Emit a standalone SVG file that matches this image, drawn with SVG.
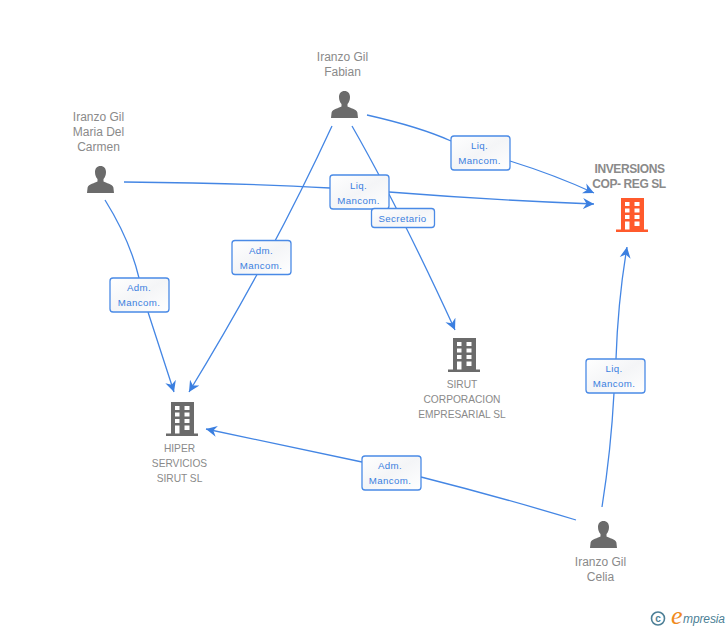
<svg xmlns="http://www.w3.org/2000/svg" width="728" height="630" viewBox="0 0 728 630">
<style>
text{font-family:"Liberation Sans",Arial,sans-serif}
.n{font-size:12px;fill:#8a8a8a;text-anchor:middle}
.c{font-size:10.200px;fill:#8a8a8a;text-anchor:middle}
.b{font-size:12px;font-weight:bold;fill:#8a8a8a;text-anchor:middle;letter-spacing:-.4px}
.l{font-size:9.700px;fill:#3b7fe0;text-anchor:middle;letter-spacing:.4px}
.e{fill:none;stroke:#4486e4;stroke-width:1.300}
.r{fill:url(#g);stroke:#4a8ae6;stroke-width:1.300}
</style>
<defs>
<linearGradient id="g" x1="0" y1="0" x2="1" y2="1"><stop offset="0" stop-color="#fff"/><stop offset=".5" stop-color="#f4f5f7"/><stop offset="1" stop-color="#fff"/></linearGradient>
<marker id="a" markerUnits="userSpaceOnUse" markerWidth="12" markerHeight="12" viewBox="0 0 12 12" refX="11" refY="6" orient="auto"><path d="M11 6L0 .5L3.500 6L0 11.500Z" fill="#3b7fe0"/></marker>
<symbol id="p" width="27" height="27" viewBox="0 0 27 27" overflow="visible"><path d="M13.500 0C10 0 8 2.600 8 6C8 9 9 11.500 10.500 13V15.500C8 17 1.500 18 .6 21.500L0 27H27L26.400 21.500C25.500 18 19 17 16.500 15.500V13C18 11.500 19 9 19 6C19 2.600 17 0 13.500 0Z"/></symbol>
<symbol id="h" width="32" height="34" viewBox="0 0 32 34"><path fill-rule="evenodd" d="M5 0H28V31.500H32V34H0V31.500H5ZM9 4V8H13.500V4ZM18.500 4V8H23.500V4ZM9 10.500V14.500H13.500V10.500ZM18.500 10.500V14.500H23.500V10.500ZM9 17V21H13.500V17ZM18.500 17V21H23.500V17ZM9 23.500V31.500H13.500V23.500ZM18.500 23.500V28H23.500V23.500Z"/></symbol>
</defs>
<g id="connectors">
<path class="e" marker-end="url(#a)" d="M367 115Q420 127 451 141M510 161Q555 175 594 193"/>
<path class="e" marker-end="url(#a)" d="M352 126Q400 210 455 330"/>
<path class="e" marker-end="url(#a)" d="M332 126Q272 256 189 392"/>
<path class="e" marker-end="url(#a)" d="M124 182Q240 183 330 188M389 192Q490 200 594 204"/>
<path class="e" marker-end="url(#a)" d="M105 200Q130 240 139 278M148 312L174 392"/>
<path class="e" marker-end="url(#a)" d="M576 520Q500 497 421 477M362 462L206 429"/>
<path class="e" marker-end="url(#a)" d="M602 507Q611 450 614 393M616 359Q618 300 627 247"/>
</g>
<g id="edge-labels">
<g><rect class="r" x="451" y="136" width="59" height="34" rx="3"/><text class="l" x="479.500" y="149">Liq.</text><text class="l" x="479.500" y="164">Mancom.</text></g>
<g><rect class="r" x="330" y="175" width="59" height="34" rx="3"/><text class="l" x="358.500" y="189">Liq.</text><text class="l" x="358.500" y="204">Mancom.</text></g>
<g><rect class="r" x="371.500" y="208.500" width="63" height="19" rx="3"/><text class="l" x="402.500" y="222">Secretario</text></g>
<g><rect class="r" x="232" y="240.500" width="59" height="34" rx="3"/><text class="l" x="261" y="254">Adm.</text><text class="l" x="261" y="269">Mancom.</text></g>
<g><rect class="r" x="110" y="278" width="59" height="34" rx="3"/><text class="l" x="139" y="291">Adm.</text><text class="l" x="139" y="306">Mancom.</text></g>
<g><rect class="r" x="586" y="359" width="59" height="34" rx="3"/><text class="l" x="614" y="372">Liq.</text><text class="l" x="614" y="387">Mancom.</text></g>
<g><rect class="r" x="362" y="456" width="59" height="34" rx="3"/><text class="l" x="390" y="469">Adm.</text><text class="l" x="390" y="484">Mancom.</text></g>
</g>
<g id="fabian"><text class="n" x="342.500" y="61">Iranzo Gil</text><text class="n" x="342.500" y="76">Fabian</text><use href="#p" x="331" y="91" fill="#6b6b6b"/></g>
<g id="maria"><text class="n" x="98.500" y="121">Iranzo Gil</text><text class="n" x="98.500" y="136">Maria Del</text><text class="n" x="98.500" y="151">Carmen</text><use href="#p" x="87" y="166" fill="#6b6b6b"/></g>
<g id="celia"><text class="n" x="600.500" y="566">Iranzo Gil</text><text class="n" x="600.500" y="581">Celia</text><use href="#p" x="590" y="521" fill="#6b6b6b"/></g>
<g id="inversions"><text class="b" x="629.500" y="173">INVERSIONS</text><text class="b" x="629" y="188">COP- REG SL</text><use href="#h" x="616" y="198" fill="#ff5a2c"/></g>
<g id="sirut"><use href="#h" x="448" y="338" fill="#6b6b6b"/><text class="c" x="462" y="388">SIRUT</text><text class="c" x="462" y="403">CORPORACION</text><text class="c" x="462" y="418">EMPRESARIAL SL</text></g>
<g id="hiper"><use href="#h" x="166" y="402" fill="#6b6b6b"/><text class="c" x="179.500" y="452">HIPER</text><text class="c" x="179.500" y="467">SERVICIOS</text><text class="c" x="179.500" y="482">SIRUT SL</text></g>
<g id="logo"><circle cx="658" cy="618.500" r="6.500" fill="none" stroke="#4d7f96" stroke-width="1.600"/><text x="658" y="622" font-size="10" font-weight="bold" fill="#4d7f96" text-anchor="middle">c</text><text x="671" y="624" font-size="26" font-style="italic" fill="#f08a1d" style="font-family:'Liberation Serif',serif">e</text><text x="683" y="623" font-size="12" font-style="italic" fill="#4d7f96" textLength="42">mpresia</text></g>
</svg>
